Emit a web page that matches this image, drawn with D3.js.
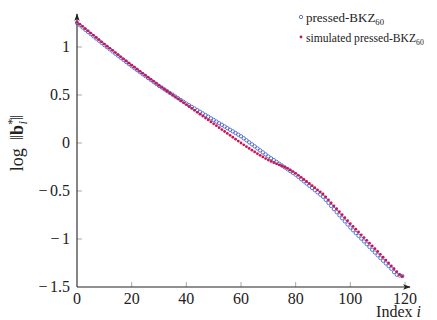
<!DOCTYPE html>
<html>
<head>
<meta charset="utf-8">
<script src="https://cdn.jsdelivr.net/npm/d3@7"></script>
<style>
  body { margin: 0; background: #fff; }
  text, tspan { font-family: 'Liberation Serif', 'DejaVu Serif', serif !important; }
</style>
</head>
<body>
<svg id="chart" width="437" height="320"></svg>
<script>
// log ||b_i*|| profile
const pressed = [
  1.25, 1.227, 1.204, 1.181, 1.158, 1.135, 1.112, 1.089, 1.066, 1.043,
  1.02, 0.998, 0.976, 0.954, 0.932, 0.91, 0.888, 0.866, 0.844, 0.822,
  0.80, 0.78, 0.759, 0.739, 0.718, 0.698, 0.677, 0.657, 0.636, 0.616,
  0.595, 0.577, 0.558, 0.54, 0.521, 0.503, 0.484, 0.466, 0.447, 0.429,
  0.41, 0.393, 0.376, 0.359, 0.342, 0.325, 0.308, 0.291, 0.274, 0.257,
  0.24, 0.223, 0.206, 0.189, 0.172, 0.155, 0.138, 0.121, 0.104, 0.087,
  0.07, 0.049, 0.028, 0.007, -0.014, -0.035, -0.056, -0.077, -0.098, -0.119,
  -0.14, -0.159, -0.178, -0.197, -0.216, -0.235, -0.254, -0.273, -0.292, -0.311,
  -0.33, -0.353, -0.376, -0.399, -0.422, -0.445, -0.468, -0.491, -0.514, -0.537,
  -0.56, -0.592, -0.624, -0.656, -0.688, -0.72, -0.752, -0.784, -0.816, -0.848,
  -0.88, -0.909, -0.938, -0.967, -0.996, -1.025, -1.054, -1.083, -1.112, -1.141,
  -1.17, -1.198, -1.226, -1.254, -1.282, -1.31, -1.345, -1.372, -1.38, -1.385
];
const simulated = [
  1.26, 1.237, 1.214, 1.191, 1.168, 1.145, 1.122, 1.099, 1.076, 1.053,
  1.03, 1.008, 0.986, 0.964, 0.942, 0.92, 0.898, 0.876, 0.854, 0.832,
  0.81, 0.789, 0.768, 0.747, 0.726, 0.705, 0.684, 0.663, 0.642, 0.621,
  0.60, 0.58, 0.56, 0.54, 0.52, 0.50, 0.48, 0.46, 0.44, 0.42,
  0.40, 0.38, 0.36, 0.34, 0.32, 0.30, 0.28, 0.26, 0.24, 0.22,
  0.20, 0.18, 0.16, 0.14, 0.12, 0.10, 0.08, 0.06, 0.04, 0.02,
  0.0, -0.019, -0.038, -0.057, -0.075, -0.093, -0.111, -0.128, -0.145, -0.162,
  -0.178, -0.192, -0.205, -0.217, -0.228, -0.239, -0.251, -0.265, -0.281, -0.298,
  -0.316, -0.337, -0.358, -0.38, -0.401, -0.422, -0.444, -0.466, -0.488, -0.509,
  -0.53, -0.561, -0.592, -0.623, -0.654, -0.685, -0.716, -0.747, -0.778, -0.809,
  -0.84, -0.869, -0.898, -0.927, -0.956, -0.985, -1.014, -1.043, -1.072, -1.101,
  -1.13, -1.16, -1.19, -1.22, -1.25, -1.28, -1.31, -1.34, -1.37, -1.39
];
const xTicks = [0, 20, 40, 60, 80, 100, 120];
const yTicks = [-1.5, -1, -0.5, 0, 0.5, 1];

const blue = '#3a55c8';
const red = '#d0134f';
const ink = '#222';

const svg = d3.select('#chart');

const x = d3.scaleLinear().domain([0, 120]).range([77, 405]);
const y = d3.scaleLinear().domain([-1.5, 1]).range([287, 47]);

// arrow marker
svg.append('defs').append('marker')
  .attr('id', 'arr')
  .attr('viewBox', '0 0 10 10')
  .attr('refX', 9).attr('refY', 5)
  .attr('markerWidth', 7).attr('markerHeight', 7)
  .attr('orient', 'auto')
  .append('path')
  .attr('d', 'M0,1.5 L10,5 L0,8.5 L2.5,5 Z')
  .attr('fill', ink);

// ticks (inside)
svg.append('g').selectAll('line').data(xTicks.filter(d => d > 0)).join('line')
  .attr('x1', d => x(d)).attr('x2', d => x(d))
  .attr('y1', y(-1.5)).attr('y2', y(-1.5) - 5)
  .attr('stroke', '#aaa').attr('stroke-width', 1);
svg.append('g').selectAll('line').data(yTicks.filter(d => d > -1.5)).join('line')
  .attr('x1', x(0)).attr('x2', x(0) + 5)
  .attr('y1', d => y(d)).attr('y2', d => y(d))
  .attr('stroke', '#aaa').attr('stroke-width', 1);

// axis lines with arrows
svg.append('line')
  .attr('x1', x(0)).attr('y1', y(-1.5))
  .attr('x2', x(120) + 5).attr('y2', y(-1.5))
  .attr('stroke', ink).attr('stroke-width', 1.1)
  .attr('marker-end', 'url(#arr)');
svg.append('line')
  .attr('x1', x(0)).attr('y1', y(-1.5))
  .attr('x2', x(0)).attr('y2', 14)
  .attr('stroke', ink).attr('stroke-width', 1.1)
  .attr('marker-end', 'url(#arr)');

// tick labels
svg.append('g').selectAll('text').data(xTicks).join('text')
  .attr('x', d => x(d)).attr('y', y(-1.5) + 17)
  .attr('text-anchor', 'middle')
  .attr('font-size', 16)
  .attr('fill', ink)
  .text(d => d);
const yt = svg.append('g').selectAll('text').data(yTicks).join('text')
  .attr('x', x(0) - 7).attr('y', d => y(d) + 5)
  .attr('text-anchor', 'end')
  .attr('font-size', 16)
  .attr('fill', ink);
// TeX minus is wider than the font's, so pad it a little
yt.filter(d => d < 0).append('tspan').text('\u2212');
yt.append('tspan').attr('dx', d => d < 0 ? 2.5 : 0).text(d => Math.abs(d));

// axis labels
const xl = svg.append('text')
  .attr('x', 421).attr('y', 317)
  .attr('text-anchor', 'end')
  .attr('font-size', 16)
  .attr('fill', ink);
xl.append('tspan').text('Index ');
xl.append('tspan').attr('font-style', 'italic').text('i');

const yl = svg.append('text')
  .attr('transform', 'translate(23,143) rotate(-90)')
  .attr('text-anchor', 'middle')
  .attr('font-size', 18)
  .attr('fill', ink);
yl.append('tspan').text('log \u2009\u2016');
yl.append('tspan').attr('font-weight', 'bold').text('b');
yl.append('tspan').attr('font-size', 13).attr('dy', -7).text('*');
yl.append('tspan').attr('font-size', 13).attr('font-style', 'italic').attr('dx', -6).attr('dy', 11).text('i');
yl.append('tspan').attr('dy', -4).attr('dx', 1).text('\u2016');

// series
const idx = d3.range(pressed.length);
svg.append('g').selectAll('circle').data(idx).join('circle')
  .attr('cx', i => x(i)).attr('cy', i => y(pressed[i]))
  .attr('r', 1.7)
  .attr('fill', 'none')
  .attr('stroke', blue)
  .attr('stroke-width', 0.8);
svg.append('g').selectAll('circle').data(idx).join('circle')
  .attr('cx', i => x(i)).attr('cy', i => y(simulated[i]))
  .attr('r', 1.4)
  .attr('fill', red);

// legend
const legend = [
  { label: 'pressed-BKZ', sub: '60', kind: 'open', w: 78 },
  { label: 'simulated pressed-BKZ', sub: '60', kind: 'dot', w: 118 }
];
const lg = svg.append('g').attr('transform', 'translate(301,17)');
legend.forEach((d, k) => {
  const row = lg.append('g').attr('transform', `translate(0,${k * 20})`);
  if (d.kind === 'open') {
    row.append('circle').attr('r', 1.7).attr('fill', 'none')
      .attr('stroke', blue).attr('stroke-width', 0.8);
  } else {
    row.append('circle').attr('r', 1.4).attr('fill', red);
  }
  const t = row.append('text').attr('x', 5).attr('y', 5)
    .attr('font-size', 15).attr('fill', ink);
  t.append('tspan').text(d.label);
  t.append('tspan').attr('font-size', 10).attr('dy', 3).text(d.sub);
  // shrink to the width seen in the picture
  const len = t.node().getComputedTextLength();
  if (len > d.w) t.attr('font-size', 15 * d.w / len)
    .select('tspan:last-child').attr('font-size', 10 * d.w / len);
});
</script>
</body>
</html>
